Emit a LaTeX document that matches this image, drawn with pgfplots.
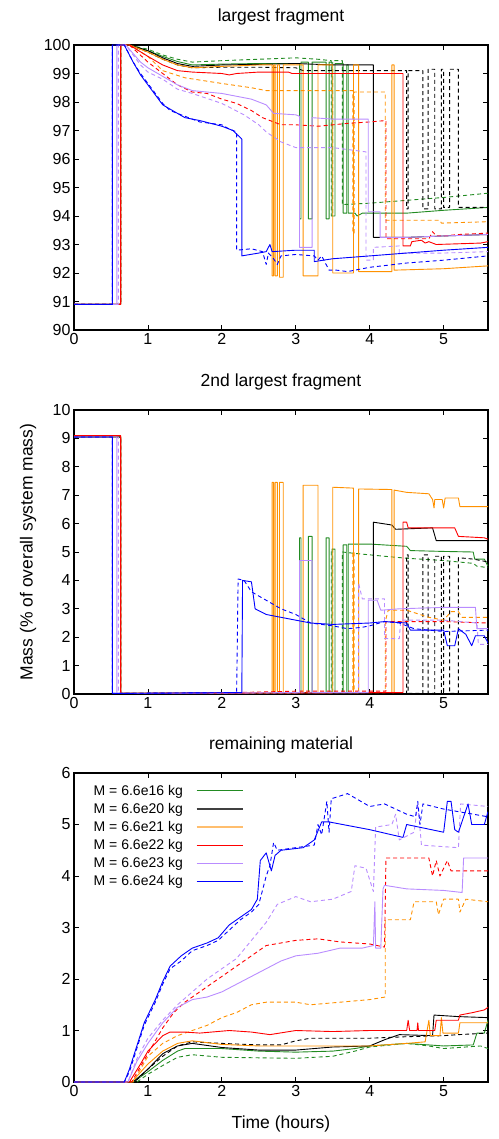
\documentclass[border=0pt]{standalone}
\usepackage{fontspec}
\setmainfont{Liberation Sans}
\usepackage{pgfplots}
\pgfplotsset{compat=1.18}
\definecolor{cgreen}{RGB}{34,139,34}
\definecolor{cblack}{RGB}{0,0,0}
\definecolor{corange}{RGB}{255,145,0}
\definecolor{cred}{RGB}{255,0,0}
\definecolor{cpurple}{RGB}{185,140,255}
\definecolor{cblue}{RGB}{0,0,255}
\definecolor{clorange}{RGB}{255,190,110}
\pgfplotsset{
  every axis/.append style={
    scale only axis, width=414pt, xmin=0, xmax=5.6, xtick={0,1,2,3,4,5},
    tick align=inside, major tick length=5pt,
    axis line style={line width=1.3pt},
    every tick/.style={black, line width=0.8pt},
    /pgf/number format/assume math mode=true,
    ticklabel style={font=\fontsize{16}{19}\selectfont},
    title style={font=\fontsize{17.5}{21}\selectfont, at={(axis description cs:0.5,1)}, anchor=center, yshift=22pt},
    label style={font=\fontsize{17.5}{21}\selectfont},
  },
  sol/.style={line width=0.9pt, line join=round},
  das/.style={line width=0.9pt, line join=round, dash pattern=on 4pt off 3pt},
  legline/.style={legend image code/.code={\draw[##1] (0pt,0pt) -- (46pt,0pt);}},
}
\begin{document}
\begin{tikzpicture}
\path[use as bounding box] (0pt,0pt) rectangle (498pt,-1139pt);
% ---------------- panel 1 ----------------
\begin{axis}[at={(74pt,-330pt)}, anchor=south west, height=285pt,
  ymin=90, ymax=100, ytick={90,91,...,100}, title={largest fragment}]
\addplot[sol, cgreen] coordinates {(0,90.9) (0.63,90.9) (0.63,100) (0.75,100) (1.0,99.8) (1.2,99.6) (1.4,99.42) (1.6,99.3) (2.0,99.33) (2.5,99.35) (3.05,99.35) (3.05,93.9) (3.07,93.9) (3.07,99.4) (3.17,99.4) (3.17,93.9) (3.22,93.9) (3.22,99.4) (3.41,99.4) (3.41,93.9) (3.45,93.9) (3.45,99.4) (3.49,99.4) (3.49,94.0) (3.53,94.0) (3.53,99.35) (3.64,99.35) (3.64,94.1) (3.69,94.1) (3.69,99.3) (3.71,99.3) (3.71,94.1) (3.8,94.1) (3.83,94.0) (3.9,94.1) (4.0,94.1) (4.5,94.1) (5.0,94.2) (5.6,94.3)};
\addplot[das, cgreen] coordinates {(0,90.9) (0.63,90.9) (0.63,100) (0.75,100) (1.0,99.85) (1.2,99.65) (1.4,99.5) (1.6,99.4) (2.0,99.45) (2.5,99.5) (3.0,99.55) (3.3,99.5) (3.48,99.45) (3.48,94.0) (3.5,94.0) (3.5,99.45) (3.63,99.45) (3.63,94.4) (4.0,94.45) (4.5,94.55) (5.0,94.65) (5.6,94.8)};
\addplot[sol, cblack] coordinates {(0,90.9) (0.63,90.9) (0.63,100) (0.75,100) (1.0,99.8) (1.2,99.55) (1.4,99.35) (1.6,99.25) (2.0,99.3) (2.5,99.32) (3.0,99.35) (3.5,99.3) (4.05,99.3) (4.05,93.25) (4.5,93.25) (5.0,93.3) (5.6,93.35)};
\addplot[das, cblack] coordinates {(0,90.9) (0.63,90.9) (0.63,100) (0.75,100) (1.0,99.75) (1.2,99.5) (1.4,99.3) (1.6,99.2) (2.0,99.22) (2.5,99.22) (3.0,99.2) (3.1,99.1) (4.0,99.1) (4.5,99.1) (4.5,94.25) (4.52,94.25) (4.52,99.1) (4.72,99.1) (4.72,94.25) (4.79,94.25) (4.79,99.15) (4.88,99.15) (4.88,94.25) (4.97,94.25) (4.97,99.15) (5.0,99.15) (5.0,94.3) (5.08,94.3) (5.08,99.15) (5.2,99.15) (5.2,94.3) (5.6,94.3)};
\addplot[sol, corange] coordinates {(0,90.9) (0.63,90.9) (0.63,100) (0.75,100) (1.0,99.75) (1.2,99.5) (1.4,99.3) (1.6,99.2) (2.0,99.25) (2.5,99.3) (2.68,99.3) (2.68,91.9) (2.7,91.9) (2.7,99.3) (2.72,99.3) (2.72,91.9) (2.75,91.9) (2.75,99.3) (2.78,99.3) (2.78,91.85) (2.83,91.85) (2.83,99.3) (3.1,99.3) (3.1,91.9) (3.3,91.9) (3.3,99.3) (3.5,99.3) (3.5,92.0) (3.78,92.0) (3.78,99.3) (3.85,99.3) (3.85,92.05) (4.3,92.05) (4.3,99.3) (4.33,99.3) (4.33,92.1) (5.0,92.15) (5.6,92.25)};
\addplot[das, corange] coordinates {(0,90.9) (0.63,90.9) (0.63,100) (0.75,100) (1.0,99.6) (1.2,99.1) (1.5,98.85) (2.0,98.65) (2.4,98.5) (2.6,98.4) (3.0,98.4) (3.5,98.4) (3.77,98.4) (3.77,93.4) (3.79,93.4) (3.79,98.35) (4.21,98.35) (4.21,93.85) (4.6,93.85) (4.95,93.85) (4.97,93.75) (5.6,93.8)};
\addplot[sol, cred] coordinates {(0,90.9) (0.63,90.9) (0.63,100) (0.75,100) (1.0,99.6) (1.2,99.3) (1.4,99.1) (1.6,99.05) (2.0,99.0) (2.1,98.95) (2.2,99.0) (2.5,99.05) (2.9,99.05) (2.95,99.0) (4.45,99.0) (4.45,92.95) (4.55,92.95) (4.57,93.1) (4.7,93.15) (4.75,93.05) (4.8,93.1) (4.9,93.0) (5.5,93.05) (5.6,93.1)};
\addplot[das, cred] coordinates {(0,90.9) (0.63,90.9) (0.63,100) (0.75,100) (1.0,99.4) (1.2,99.0) (1.4,98.6) (1.6,98.35) (1.8,98.3) (2.0,98.1) (2.2,97.95) (2.4,97.7) (2.55,97.45) (2.7,97.3) (2.8,97.2) (3.0,97.2) (3.3,97.15) (3.7,97.25) (4.0,97.3) (4.22,97.35) (4.22,93.2) (4.8,93.2) (4.85,93.45) (4.9,93.3) (5.0,93.3) (5.2,93.35) (5.6,93.4)};
\addplot[sol, cpurple] coordinates {(0,90.9) (0.58,90.9) (0.58,100) (0.7,100) (0.9,99.4) (1.0,99.2) (1.2,98.9) (1.4,98.6) (1.6,98.4) (2.0,98.3) (2.4,98.1) (2.6,97.9) (2.7,97.6) (3.0,97.55) (3.05,97.5) (3.05,92.9) (3.22,92.9) (3.22,97.45) (3.5,97.4) (3.98,97.4) (3.98,94.15) (4.14,94.15) (4.14,93.25) (4.5,93.25) (5.0,93.3) (5.6,93.35)};
\addplot[das, cpurple] coordinates {(0,90.9) (0.6,90.9) (0.6,100) (0.7,100) (0.9,99.3) (1.0,99.05) (1.2,98.8) (1.4,98.45) (1.6,98.3) (2.0,97.95) (2.3,97.55) (2.5,97.2) (2.6,96.95) (2.8,96.6) (3.0,96.4) (3.5,96.4) (3.8,96.3) (3.95,96.25) (3.95,92.45) (4.05,92.45) (4.05,92.9) (4.4,92.95) (4.4,92.7) (5.0,92.7) (5.6,92.75)};
\addplot[sol, cblue] coordinates {(0,90.9) (0.52,90.9) (0.52,100) (0.68,100) (0.8,99.4) (0.9,98.95) (1.0,98.6) (1.1,98.25) (1.2,97.9) (1.3,97.75) (1.5,97.45) (1.7,97.35) (2.0,97.15) (2.15,97.0) (2.27,96.7) (2.27,92.6) (2.5,92.7) (2.6,92.75) (2.65,93.0) (2.68,92.75) (3.0,92.8) (3.25,92.8) (3.25,92.4) (3.5,92.5) (4.0,92.6) (4.5,92.7) (5.0,92.8) (5.6,92.9)};
\addplot[das, cblue] coordinates {(0,90.9) (0.52,90.9) (0.52,100) (0.68,100) (0.8,99.4) (0.9,99.0) (1.0,98.65) (1.1,98.3) (1.2,97.95) (1.3,97.7) (1.5,97.5) (1.7,97.3) (2.0,97.2) (2.1,97.05) (2.2,96.95) (2.2,92.8) (2.4,92.85) (2.55,92.75) (2.6,92.3) (2.63,92.7) (2.7,92.5) (2.75,92.3) (2.8,92.6) (3.0,92.65) (3.25,92.6) (3.3,92.45) (3.35,92.6) (3.45,92.1) (3.55,92.1) (3.7,92.05) (4.0,92.2) (4.5,92.35) (5.0,92.45) (5.6,92.6)};
\end{axis}
% ---------------- panel 2 ----------------
\begin{axis}[at={(74pt,-694pt)}, anchor=south west, height=284pt,
  ymin=0, ymax=10, ytick={0,1,...,10}, title={2nd largest fragment},
  ylabel={Mass (\% of overall system mass)},
  ylabel style={at={(axis description cs:-0.111,0.5)}, anchor=center}]
\addplot[sol, cgreen] coordinates {(0,9.05) (0.63,9.05) (0.63,0.02) (3.05,0.05) (3.05,5.5) (3.07,5.5) (3.07,0.05) (3.17,0.05) (3.17,5.55) (3.22,5.55) (3.22,0.05) (3.41,0.05) (3.41,5.5) (3.45,5.5) (3.45,0.05) (3.49,0.05) (3.49,5.1) (3.53,5.1) (3.53,0.05) (3.64,0.05) (3.64,5.25) (3.69,5.25) (3.69,0.05) (3.71,0.05) (3.71,5.28) (4.0,5.28) (4.5,5.2) (4.55,5.05) (5.0,5.02) (5.4,5.0) (5.42,4.75) (5.55,4.75) (5.6,4.5)};
\addplot[das, cgreen] coordinates {(0,9.05) (0.63,9.05) (0.63,0.02) (3.48,0.05) (3.48,5.1) (3.5,5.1) (3.5,0.05) (3.63,0.05) (3.63,5.0) (3.8,4.95) (4.2,4.85) (4.5,4.78) (5.0,4.7) (5.4,4.6) (5.45,4.5) (5.6,4.45)};
\addplot[sol, cblack] coordinates {(0,9.05) (0.63,9.05) (0.63,0.02) (4.05,0.05) (4.05,6.05) (4.3,5.95) (4.35,5.8) (4.85,5.85) (4.9,5.4) (5.6,5.4)};
\addplot[das, cblack] coordinates {(0,9.05) (0.63,9.05) (0.63,0.02) (4.5,0.02) (4.5,4.9) (4.52,4.9) (4.52,0.02) (4.72,0.02) (4.72,4.9) (4.79,4.9) (4.79,0.02) (4.88,0.02) (4.88,4.85) (4.97,4.85) (4.97,0.02) (5.0,0.02) (5.0,4.85) (5.08,4.85) (5.08,0.02) (5.2,0.02) (5.2,4.8) (5.4,4.75) (5.6,4.65)};
\addplot[sol, corange] coordinates {(0,9.1) (0.63,9.1) (0.63,0.02) (2.68,0.05) (2.68,7.45) (2.7,7.45) (2.7,0.05) (2.72,0.05) (2.72,7.45) (2.75,7.45) (2.75,0.05) (2.78,0.05) (2.78,7.45) (2.83,7.45) (2.83,0.05) (3.1,0.05) (3.1,7.35) (3.3,7.35) (3.3,0.05) (3.5,0.05) (3.5,7.28) (3.78,7.25) (3.78,0.05) (3.85,0.05) (3.85,7.22) (4.3,7.2) (4.3,0.05) (4.33,0.05) (4.33,7.18) (4.5,7.1) (4.8,7.05) (4.85,6.85) (4.87,6.55) (4.88,6.85) (4.98,6.85) (5.0,6.55) (5.02,6.9) (5.2,6.9) (5.22,6.6) (5.6,6.6)};
\addplot[das, corange] coordinates {(0,9.1) (0.63,9.1) (0.63,0.02) (3.77,0.05) (3.77,5.0) (3.79,5.0) (3.79,0.05) (4.21,0.05) (4.21,2.55) (4.25,2.95) (4.5,2.95) (4.8,2.7) (5.0,2.6) (5.1,2.9) (5.2,2.9) (5.25,2.7) (5.6,2.7)};
\addplot[sol, cred] coordinates {(0,9.1) (0.63,9.1) (0.63,0.02) (4.45,0.05) (4.45,6.05) (4.5,6.05) (4.52,5.85) (5.15,5.85) (5.2,5.55) (5.55,5.5) (5.6,5.45)};
\addplot[das, cred] coordinates {(0,9.1) (0.63,9.1) (0.63,0.02) (2.2,0.05) (3.0,0.1) (4.22,0.1) (4.22,2.55) (5.0,2.55) (5.6,2.5)};
\addplot[sol, cpurple] coordinates {(0,9.05) (0.58,9.05) (0.58,0.02) (3.05,0.05) (3.05,4.7) (3.22,4.7) (3.22,0.05) (3.98,0.05) (3.98,3.3) (4.1,3.3) (4.15,2.95) (4.4,3.0) (5.0,3.05) (5.43,3.05) (5.45,2.3) (5.6,2.3)};
\addplot[das, cpurple] coordinates {(0,9.05) (0.6,9.05) (0.6,0.02) (3.85,0.05) (3.85,3.9) (3.9,3.35) (4.2,3.35) (4.2,1.95) (4.4,1.95) (4.42,2.6) (5.0,2.6) (5.45,2.5) (5.47,1.75) (5.6,1.75)};
\addplot[sol, cblue] coordinates {(0,9.05) (0.52,9.05) (0.52,0.02) (2.27,0.05) (2.28,4.0) (2.4,3.95) (2.45,3.0) (2.6,2.8) (3.0,2.6) (3.2,2.5) (3.5,2.45) (4.0,2.5) (4.2,2.55) (4.5,2.5) (4.55,2.25) (5.0,2.25) (5.05,1.7) (5.15,1.7) (5.2,2.3) (5.3,2.1) (5.38,1.7) (5.43,2.05) (5.55,2.05) (5.6,1.8)};
\addplot[das, cblue] coordinates {(0,9.05) (0.52,9.05) (0.52,0.02) (2.2,0.05) (2.22,4.05) (2.3,4.0) (2.4,3.6) (2.6,3.3) (2.8,3.0) (3.0,2.8) (3.2,2.5) (3.5,2.4) (3.7,2.3) (3.9,2.35) (4.0,2.4) (4.2,2.55) (4.4,2.5) (4.6,2.3) (5.0,2.2) (5.6,2.25)};
\end{axis}
% ---------------- panel 3 ----------------
\begin{axis}[at={(74pt,-1082pt)}, anchor=south west, height=309pt,
  ymin=0, ymax=6, ytick={0,1,...,6}, title={remaining material},
  xlabel={Time (hours)},
  xlabel style={at={(axis description cs:0.5,-0.136)}, anchor=center},
  legend style={at={(axis description cs:0.035,0.975)}, anchor=north west, draw=none, fill=none,
    font=\fontsize{14}{17}\selectfont, row sep=2.5pt, column sep=11pt},
  legend cell align=right, legend plot pos=right, legline]
\addplot[sol, cgreen, forget plot] coordinates {(0,0) (0.8,0) (0.9,0.1) (1.0,0.2) (1.2,0.42) (1.4,0.6) (1.5,0.65) (2.0,0.65) (2.5,0.6) (3.0,0.58) (3.5,0.6) (3.8,0.65) (4.0,0.7) (4.5,0.75) (5.0,0.7) (5.4,0.72) (5.45,0.95) (5.55,0.95) (5.6,1.2)};
\addplot[das, cgreen, forget plot] coordinates {(0,0) (0.85,0) (1.0,0.15) (1.2,0.32) (1.4,0.48) (1.6,0.53) (2.0,0.48) (2.5,0.47) (3.0,0.46) (3.5,0.5) (3.8,0.6) (4.0,0.68) (4.5,0.75) (4.8,0.7) (5.0,0.65) (5.5,0.7) (5.6,0.65)};
\addplot[sol, cblack, forget plot] coordinates {(0,0) (0.8,0) (1.0,0.25) (1.2,0.55) (1.4,0.7) (1.6,0.75) (2.0,0.67) (2.5,0.62) (3.0,0.62) (3.5,0.68) (4.0,0.7) (4.2,0.82) (4.4,0.92) (4.85,0.9) (4.87,1.3) (5.2,1.27) (5.6,1.25)};
\addplot[das, cblack, forget plot] coordinates {(0,0) (0.82,0) (1.0,0.25) (1.2,0.5) (1.4,0.7) (1.6,0.78) (2.0,0.75) (2.5,0.72) (2.8,0.72) (3.0,0.8) (3.2,0.85) (3.5,0.85) (4.0,0.85) (4.5,0.88) (5.0,0.9) (5.2,0.92) (5.6,0.95)};
\addplot[sol, corange, forget plot] coordinates {(0,0) (0.78,0) (1.0,0.35) (1.2,0.6) (1.4,0.75) (1.6,0.8) (2.0,0.73) (2.5,0.7) (3.0,0.7) (3.5,0.7) (4.0,0.7) (4.5,0.75) (4.75,0.78) (4.8,1.2) (4.82,0.9) (4.95,0.9) (4.97,1.25) (4.99,0.95) (5.2,0.95) (5.22,1.15) (5.6,1.15)};
\addplot[das, corange, forget plot] coordinates {(0,0) (0.8,0) (1.0,0.5) (1.2,0.75) (1.4,0.9) (1.6,1.0) (1.8,1.1) (2.0,1.25) (2.2,1.35) (2.4,1.5) (2.6,1.55) (3.0,1.55) (3.2,1.5) (3.6,1.55) (4.0,1.6) (4.21,1.65) (4.21,3.15) (4.55,3.15) (4.6,3.5) (4.9,3.5) (4.93,3.25) (5.0,3.55) (5.2,3.55) (5.22,3.3) (5.3,3.55) (5.6,3.5)};
\addplot[sol, cred, forget plot] coordinates {(0,0) (0.75,0) (0.9,0.35) (1.0,0.6) (1.1,0.75) (1.2,0.9) (1.3,0.97) (1.5,0.97) (1.7,0.95) (2.1,1.0) (2.4,0.97) (2.65,0.92) (3.0,1.0) (3.5,0.98) (4.0,1.0) (4.5,1.0) (4.52,1.2) (4.54,1.0) (4.64,1.0) (4.65,1.15) (4.66,1.0) (4.88,1.0) (4.9,1.2) (5.2,1.2) (5.22,1.3) (5.4,1.35) (5.55,1.4) (5.6,1.45)};
\addplot[das, cred, forget plot] coordinates {(0,0) (0.78,0) (0.9,0.3) (1.0,0.55) (1.1,0.8) (1.2,1.05) (1.35,1.35) (1.5,1.55) (1.7,1.75) (1.9,1.95) (2.1,2.15) (2.3,2.35) (2.45,2.5) (2.6,2.65) (3.0,2.75) (3.3,2.78) (3.6,2.72) (4.0,2.68) (4.2,2.62) (4.22,4.35) (4.8,4.35) (4.85,4.0) (4.9,4.3) (4.95,4.0) (5.05,4.3) (5.1,4.1) (5.6,4.1)};
\addplot[sol, cpurple, forget plot] coordinates {(0,0) (0.73,0) (0.85,0.4) (1.0,0.75) (1.2,1.15) (1.4,1.45) (1.6,1.6) (1.8,1.65) (2.0,1.75) (2.2,1.9) (2.4,2.05) (2.6,2.2) (2.8,2.35) (3.0,2.45) (3.3,2.5) (3.6,2.6) (3.9,2.6) (4.05,2.65) (4.07,3.5) (4.08,2.6) (4.15,2.6) (4.18,3.75) (4.2,3.82) (4.5,3.75) (5.0,3.72) (5.25,3.68) (5.27,4.35) (5.6,4.35)};
\addplot[das, cpurple, forget plot] coordinates {(0,0) (0.73,0) (0.85,0.45) (1.0,0.85) (1.2,1.2) (1.4,1.5) (1.6,1.75) (1.8,2.0) (2.0,2.2) (2.2,2.4) (2.4,2.75) (2.6,3.1) (2.75,3.45) (3.0,3.6) (3.2,3.5) (3.5,3.55) (3.75,3.7) (3.8,4.2) (3.95,4.15) (4.05,3.7) (4.08,4.95) (4.3,5.0) (4.35,5.2) (4.4,4.7) (4.6,4.85) (4.65,5.4) (4.7,4.6) (5.2,4.55) (5.23,5.4) (5.6,5.35)};
\addplot[sol, cblue, forget plot] coordinates {(0,0) (0.68,0) (0.75,0.25) (0.85,0.7) (0.95,1.15) (1.1,1.6) (1.2,1.95) (1.3,2.25) (1.45,2.45) (1.6,2.6) (1.8,2.7) (1.95,2.8) (2.1,3.05) (2.25,3.2) (2.4,3.35) (2.48,3.55) (2.52,4.3) (2.6,4.45) (2.67,4.1) (2.72,4.4) (2.8,4.5) (3.1,4.55) (3.25,4.7) (3.35,5.05) (3.45,5.05) (4.0,4.9) (4.45,4.75) (4.5,5.0) (5.0,4.85) (5.05,5.45) (5.1,5.45) (5.15,4.9) (5.2,4.85) (5.33,5.4) (5.38,5.0) (5.55,5.0) (5.6,5.25)};
\addplot[das, cblue, forget plot] coordinates {(0,0) (0.68,0) (0.75,0.2) (0.85,0.65) (0.95,1.1) (1.1,1.55) (1.2,1.9) (1.3,2.2) (1.45,2.35) (1.6,2.55) (1.8,2.65) (1.95,2.75) (2.1,2.95) (2.25,3.15) (2.4,3.3) (2.5,3.45) (2.6,4.0) (2.65,4.2) (2.7,4.65) (2.75,4.5) (3.0,4.55) (3.25,4.6) (3.3,5.0) (3.35,4.8) (3.42,5.45) (3.45,4.85) (3.48,5.5) (3.7,5.6) (4.0,5.35) (4.2,5.4) (4.5,5.2) (4.62,5.15) (4.65,5.45) (4.68,5.0) (4.72,5.4) (5.0,5.3) (5.6,5.15)};
\addlegendimage{line width=1.3pt, color=cgreen}
\addlegendentry{M = 6.6e16 kg}
\addlegendimage{line width=1.3pt, color=black!75}
\addlegendentry{M = 6.6e20 kg}
\addlegendimage{line width=1.6pt, color=clorange}
\addlegendentry{M = 6.6e21 kg}
\addlegendimage{line width=1.3pt, color=cred}
\addlegendentry{M = 6.6e22 kg}
\addlegendimage{line width=1.3pt, color=cpurple}
\addlegendentry{M = 6.6e23 kg}
\addlegendimage{line width=1.3pt, color=cblue}
\addlegendentry{M = 6.6e24 kg}
\end{axis}
\end{tikzpicture}
\end{document}
